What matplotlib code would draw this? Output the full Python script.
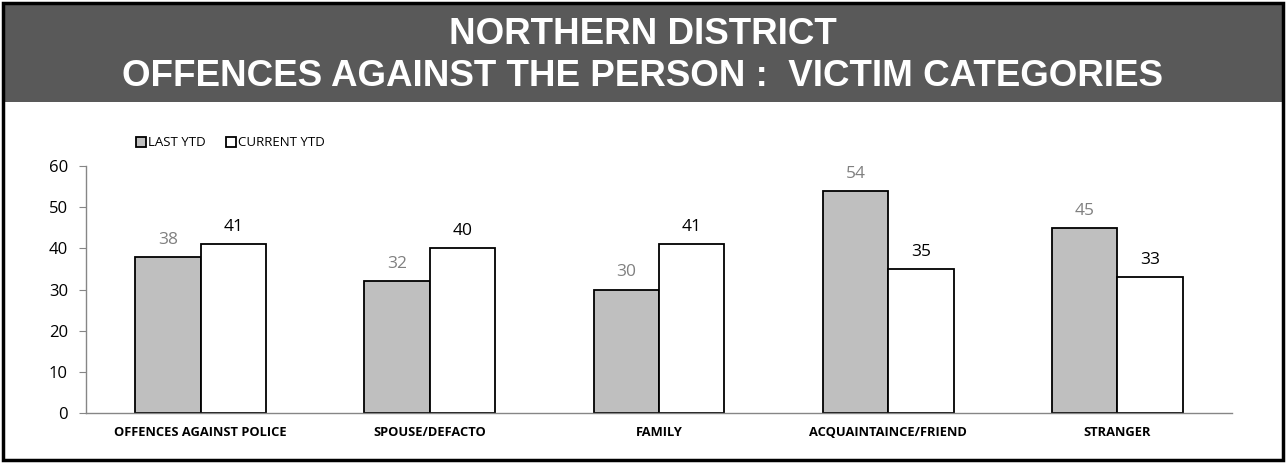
import numpy as np
import matplotlib.pyplot as plt
from matplotlib.patches import Rectangle

# data
categories = ['OFFENCES AGAINST POLICE', 'SPOUSE/DEFACTO', 'FAMILY',
              'ACQUAINTAINCE/FRIEND', 'STRANGER']
last_ytd = [38, 32, 30, 54, 45]
current_ytd = [41, 40, 41, 35, 33]
y_ticks = [0, 10, 20, 30, 40, 50, 60]

W, H = 1286, 463
fig = plt.figure(figsize=(W / 100, H / 100), dpi=100)

# outer frame and dark title band
fig.patches.append(Rectangle((3 / W, 3 / H), 1 - 6 / W, 1 - 6 / H, transform=fig.transFigure,
                             fill=False, edgecolor='black', linewidth=2.5, zorder=5))
fig.patches.append(Rectangle((3 / W, 1 - 102 / H), 1 - 6 / W, 99 / H, transform=fig.transFigure,
                             facecolor='#595959', edgecolor='none', zorder=0))
fig.text(0.5, 1 - 35 / H, 'NORTHERN DISTRICT', ha='center', va='center', color='white',
         fontsize=26.5, fontweight='bold', family='Liberation Sans')
fig.text(0.5, 1 - 76 / H, 'OFFENCES AGAINST THE PERSON :  VICTIM CATEGORIES', ha='center',
         va='center', color='white', fontsize=26.5, fontweight='bold', family='Liberation Sans')

ax = fig.add_axes([86 / W, 1 - 413 / H, (1232 - 86) / W, (413 - 166) / H])

x = np.arange(len(categories))
bw = 0.285
b1 = ax.bar(x - bw / 2, last_ytd, bw, color='#bfbfbf', edgecolor='black', linewidth=1.3,
            label='LAST YTD')
b2 = ax.bar(x + bw / 2, current_ytd, bw, color='white', edgecolor='black', linewidth=1.3,
            label='CURRENT YTD')

for r, v in zip(b1, last_ytd):
    ax.text(r.get_x() + r.get_width() / 2, v + 2.2, str(v), ha='center', va='bottom',
            color='#808080', fontsize=12.5, family='Open Sans')
for r, v in zip(b2, current_ytd):
    ax.text(r.get_x() + r.get_width() / 2, v + 2.2, str(v), ha='center', va='bottom',
            color='black', fontsize=12.5, family='Open Sans')

ax.set_xlim(-0.5, len(categories) - 0.5)
ax.set_ylim(0, 60)
ax.set_yticks(y_ticks)
ax.set_xticks(x)
ax.set_xticklabels(categories, fontsize=9.3, fontweight='bold', family='Open Sans')
ax.tick_params(axis='x', length=0, pad=9)
ax.tick_params(axis='y', length=5, color='#868686', labelsize=12, pad=8)
for lab in ax.get_yticklabels():
    lab.set_family('Open Sans')
for s in ['top', 'right']:
    ax.spines[s].set_visible(False)
for s in ['left', 'bottom']:
    ax.spines[s].set_color('#868686')
    ax.spines[s].set_linewidth(1)

leg = fig.legend(handles=[b1, b2], loc='center left', bbox_to_anchor=(124 / W, 1 - 143 / H),
                 ncol=2, frameon=False, prop={'family': 'Open Sans', 'size': 9.5},
                 handlelength=0.75, handleheight=0.75, handletextpad=0.15, columnspacing=1.6)

fig.savefig('out.png', dpi=100)
